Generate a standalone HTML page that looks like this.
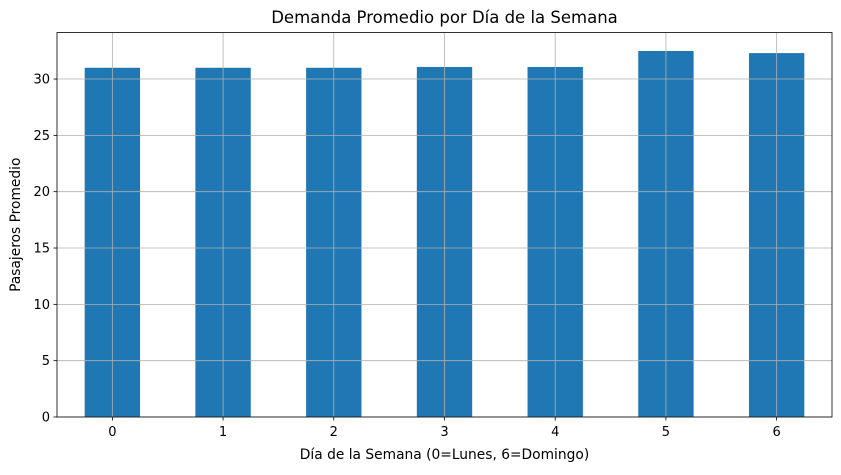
<!DOCTYPE html>
<html><head><meta charset="utf-8"><style>
body{margin:0;background:#fff;font-family:"DejaVu Sans","Liberation Sans",sans-serif}
</style></head><body>
<svg id="chart" width="841" height="471" xmlns="http://www.w3.org/2000/svg" font-family="DejaVu Sans, Liberation Sans, sans-serif"></svg>
<script>
const categories=["0","1","2","3","4","5","6"];
const values=[31.0,31.0,31.0,31.07,31.07,32.49,32.3];
const yTicks=[0,5,10,15,20,25,30];
const L=57,R=832,T=32.5,B=417,yMax=34.13;
const svg=document.getElementById('chart');
const NS="http://www.w3.org/2000/svg";
function y(v){return B-(v/yMax)*(B-T);}
const step=(R-L)/categories.length;
function x(i){return L+step*(i+0.5);}
function add(tag,attrs,text){const e=document.createElementNS(NS,tag);for(const k in attrs)e.setAttribute(k,attrs[k]);if(text!==undefined)e.textContent=text;svg.appendChild(e);return e;}
const bw=step*0.5;
values.forEach((v,i)=>{const r=add('rect',{x:x(i)-bw/2,y:y(v),width:bw,height:B-y(v),fill:'#1f77b4'});

});
yTicks.forEach(t=>{const g=add('line',{x1:L,x2:R,y1:y(t),y2:y(t),stroke:'#b0b0b0','stroke-width':0.8});


add('line',{x1:L-3.5,x2:L,y1:y(t),y2:y(t),stroke:'#000','stroke-width':0.8});
const lb=add('text',{x:L-7,y:y(t)+4.5,'text-anchor':'end','font-size':13},t);

});
categories.forEach((c,i)=>{const g=add('line',{x1:x(i),x2:x(i),y1:T,y2:B,stroke:'#b0b0b0','stroke-width':0.8});


add('line',{x1:x(i),x2:x(i),y1:B,y2:B+3.5,stroke:'#000','stroke-width':0.8});
const lb=add('text',{x:x(i),y:B+19,'text-anchor':'middle','font-size':13},c);

});
const f=add('rect',{x:L,y:T,width:R-L,height:B-T,fill:'none',stroke:'#000','stroke-width':0.8});


const ti=add('text',{x:(L+R)/2,y:23,'text-anchor':'middle','font-size':16.5},'Demanda Promedio por Día de la Semana');


const xt=add('text',{x:(L+R)/2,y:459,'text-anchor':'middle','font-size':13.8},'Día de la Semana (0=Lunes, 6=Domingo)');


const yt=add('text',{x:0,y:0,'text-anchor':'middle','font-size':13.8,transform:`translate(20,${(T+B)/2}) rotate(-90)`},'Pasajeros Promedio');


</script>
</body></html>
